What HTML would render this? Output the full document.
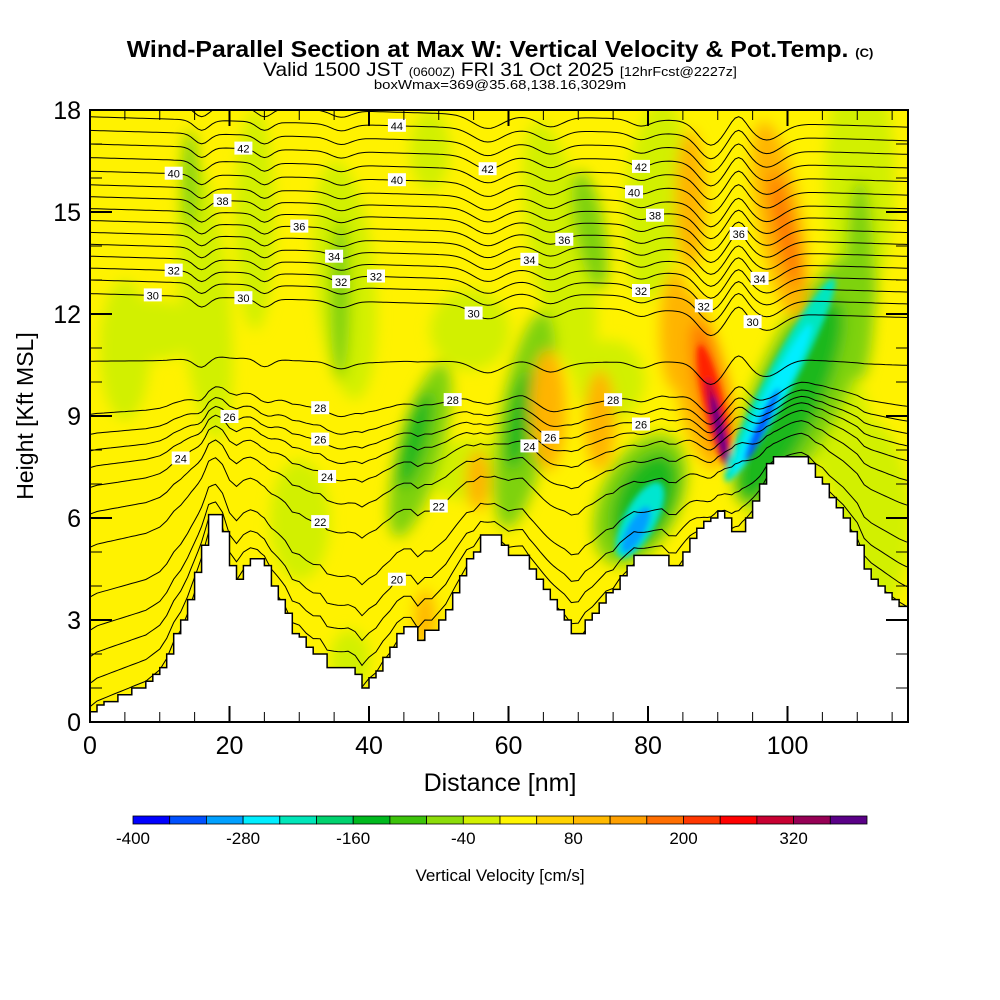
<!DOCTYPE html>
<html><head><meta charset="utf-8">
<style>
html,body{margin:0;padding:0;background:#fff;width:1000px;height:1000px;overflow:hidden}
svg{display:block}
text{font-family:"Liberation Sans",sans-serif}
</style></head>
<body>
<svg id="chart" width="1000" height="1000" viewBox="0 0 1000 1000">
<defs>
<filter id="blur" x="-20%" y="-20%" width="140%" height="140%"><feGaussianBlur stdDeviation="7"/></filter>
<filter id="blur2" x="-20%" y="-20%" width="140%" height="140%"><feGaussianBlur stdDeviation="3"/></filter>
<clipPath id="plotclip"><rect x="90" y="110" width="818" height="612"/></clipPath>
</defs>
<g>
<text x="500" y="57" text-anchor="middle" font-size="23" font-weight="bold" transform="translate(500,0) scale(1.08,1) translate(-500,0)">Wind-Parallel Section at Max W: Vertical Velocity &amp; Pot.Temp. <tspan font-size="12">(C)</tspan></text>
<text x="500" y="76" text-anchor="middle" font-size="19" transform="translate(500,0) scale(1.1,1) translate(-500,0)">Valid 1500 JST <tspan font-size="12">(0600Z)</tspan> FRI 31 Oct 2025 <tspan font-size="13">[12hrFcst@2227z]</tspan></text>
<text x="500" y="89" text-anchor="middle" font-size="13" transform="translate(500,0) scale(1.15,1) translate(-500,0)">boxWmax=369@35.68,138.16,3029m</text>
</g>
<g clip-path="url(#plotclip)">
<rect x="90" y="110" width="818" height="612" fill="#fff200"/>
<g id="field" filter="url(#blur)"></g>
<g id="field2" filter="url(#blur2)"></g>
<g id="contours"></g>
<polygon id="terrain" fill="#fff" stroke="#000" stroke-width="1.5"/>
<g id="labels"></g>
</g>
<rect x="90" y="110" width="818" height="612" fill="none" stroke="#000" stroke-width="2"/>
<g id="ticks"></g>
<text x="500" y="791" text-anchor="middle" font-size="25">Distance [nm]</text>
<text x="0" y="0" text-anchor="middle" font-size="23" transform="translate(33,416) rotate(-90)">Height [Kft MSL]</text>
<g id="colorbar"></g>
<text x="500" y="881" text-anchor="middle" font-size="17">Vertical Velocity [cm/s]</text>
</svg>
<script>
// ---- data ----
const terrainX = [0,1,2,4,6,8,9,10,11,12,13,14,15,16,17,18,19,20,21,22,23,24,25,26,27,28,29,30,31,32,33,34,35,36,37,38,39,40,41,42,43,44,45,46,47,48,49,50,51,52,53,54,55,56,57,58,59,60,61,62,63,64,65,66,67,68,69,70,71,72,73,74,75,76,77,78,79,80,81,82,83,84,85,86,87,88,89,90,91,92,93,94,95,96,97,98,99,100,101,102,103,104,105,106,107,108,109,110,111,112,113,114,115,116,117.3];
const terrainH = [0.3,0.5,0.6,0.8,1.0,1.2,1.4,1.6,2.0,2.6,3.0,3.6,4.4,5.2,6.1,6.1,5.6,4.6,4.2,4.6,4.8,4.8,4.6,4.0,3.6,3.2,2.6,2.5,2.2,2.0,2.0,1.6,1.6,1.6,1.6,1.4,1.0,1.3,1.5,1.9,2.2,2.6,2.8,2.8,2.4,2.7,2.7,3.0,3.3,3.8,4.3,4.8,5.0,5.5,5.5,5.5,5.2,4.9,4.9,4.9,4.5,4.2,3.9,3.6,3.3,3.0,2.6,2.6,3.0,3.2,3.5,3.8,3.9,4.3,4.6,4.9,4.9,4.9,4.9,4.9,4.6,4.6,5.0,5.4,5.7,5.9,6.0,6.2,6.0,5.6,5.6,6.0,6.5,7.0,7.6,7.8,7.8,7.8,7.8,7.8,7.6,7.2,7.0,6.6,6.3,6.0,5.6,5.2,4.5,4.2,4.0,3.8,3.6,3.4,3.2];
const thetaLevels = [17,18,19,20,21,22,23,24,25,26,27,28,29,30,31,32,33,34,35,36,37,38,39,40,41,42,43,44,45];
const thetaBaseH  = [0.2,0.9,1.7,2.5,3.5,5.0,6.0,6.8,7.4,7.9,8.4,9.0,10.6,12.6,13.0,13.35,13.7,14.05,14.4,14.75,15.1,15.45,15.8,16.2,16.6,17.0,17.4,17.8,18.2];
const dipX = [16,25,36,57,66,79,89,93,97];
const dipA = [0.3,0.25,0.2,0.4,0.3,0.2,0.7,-0.3,0.5];
const dipW = [1.5,1.5,2,3,2.5,2,2.5,1.5,3];
const labelX = [22,12,12,13,33,20,34,33,44,33,50,52,9,19,30,22,35,36,41,44,55,63,57,44,66,79,63,68,75,78,79,81,79,88,93,95,96];
const labelL = [42,40,32,24,28,26,24,22,20,26,22,28,30,38,36,30,34,32,32,40,30,24,42,44,26,26,34,36,28,40,42,38,32,32,36,30,34];
const cbLevels = [-400,-360,-320,-280,-240,-200,-160,-120,-80,-40,0,40,80,120,160,200,240,280,320,360,400];
const cbColors = ["#0000ff","#0050ff","#00a0ff","#00eeff","#00e6b9","#00d26e","#00b91e","#3cc30a","#8cdc0a","#d2f000","#fff500","#ffd200","#ffb900","#ffa000","#ff6e00","#ff3700","#ff0000","#c80032","#960055","#5a0087"];
const cbTicks = [-400,-280,-160,-40,80,200,320];
const xTicks = [0,20,40,60,80,100];
const yTicks = [0,3,6,9,12,15,18];

// ---- axes ----
const X = nm => 90 + nm*6.975;
const Y = k => 722 - k*34;
const NS = "http://www.w3.org/2000/svg";
function mk(tag, attrs, parent){const e=document.createElementNS(NS,tag);for(const k in attrs)e.setAttribute(k,attrs[k]);parent.appendChild(e);return e;}
function terr(nm){
  for(let i=0;i<terrainX.length-1;i++){ if(nm<=terrainX[i+1]){const t=(nm-terrainX[i])/(terrainX[i+1]-terrainX[i]);return terrainH[i]+t*(terrainH[i+1]-terrainH[i]);} }
  return terrainH[terrainH.length-1];
}
function thetaH(li, nm){
  const b = thetaBaseH[li];
  let h = b;
  const w = Math.max(0, 1 - b/11);
  h += terr(nm)*w*0.85;
  const up = Math.min(1, b/9);
  h -= up*0.006*nm*(b>11?1:0.3);
  for(let j=0;j<dipX.length;j++){
    const d=(nm-dipX[j])/dipW[j];
    h -= dipA[j]*Math.exp(-d*d)*(0.3+0.7*Math.min(1,b/8));
  }
  return h;
}

// terrain polygon (stair steps)
(function(){
  const pts=[];
  pts.push([X(0),Y(0)-0]);
  for(let i=0;i<terrainX.length;i++){
    const x0=X(terrainX[i]);
    const x1=i<terrainX.length-1?X(terrainX[i+1]):X(118);
    pts.push([x0,Y(terrainH[i])]); pts.push([x1,Y(terrainH[i])]);
  }
  pts.push([X(118),Y(-0.2)]); pts.push([X(0),Y(-0.2)]);
  document.getElementById('terrain').setAttribute('points',pts.map(p=>p[0].toFixed(1)+','+p[1].toFixed(1)).join(' '));
})();

// ---- velocity field (approximate shapes) ----
const fld=document.getElementById('field'), fld2=document.getElementById('field2');
function blob(g,name,cx,cy,rx,ry,rot,col){
  const e=mk('ellipse',{cx:cx,cy:cy,rx:rx,ry:ry,fill:col,transform:`rotate(${rot} ${cx} ${cy})`},g);
  
  
}
[[150,330,50,30,0],[125,350,25,70,0],[205,300,25,140,-5],[255,220,20,110,0],[345,280,30,120,-5],[470,330,40,40,0],[560,250,30,130,-10],[655,200,30,100,5],[860,180,35,120,0],[870,520,40,100,0],[860,660,20,40,0],[470,470,50,30,0],[350,660,20,30,0],[300,520,30,60,0],[610,380,35,40,0],[430,150,20,40,0],[780,540,35,60,0],[840,430,30,60,0]].forEach((b,i)=>blob(fld,'updraft-weak-'+i,b[0],b[1],b[2],b[3],b[4],'#d2f000'));
[[420,450,22,90,15],[525,420,25,110,10],[640,500,40,70,25],[805,380,45,140,25],[590,230,15,60,-10],[860,280,15,100,0],[340,300,10,80,0],[190,180,8,50,0]].forEach((b,i)=>blob(fld,'downdraft-green-'+i,b[0],b[1],b[2],b[3],b[4],'#7ed20a'));
[[415,440,12,50,15],[520,420,12,50,10],[645,500,28,50,25],[790,400,30,110,25]].forEach((b,i)=>blob(fld,'downdraft-strong-'+i,b[0],b[1],b[2],b[3],b[4],'#1cb81e'));
[[548,410,18,60,0],[700,380,25,90,-10],[780,220,22,100,-10],[425,620,10,30,0],[478,480,12,30,0],[600,420,15,50,0],[675,330,15,60,0],[760,560,15,40,0],[690,200,15,70,0]].forEach((b,i)=>blob(fld,'updraft-orange-'+i,b[0],b[1],b[2],b[3],b[4],'#ffb400'));
[[712,390,16,70,-12],[785,230,10,60,-12]].forEach((b,i)=>blob(fld,'updraft-strong-'+i,b[0],b[1],b[2],b[3],b[4],'#ff7800'));
[[714,405,10,62,-13,'#ff2000'],[718,425,6,48,-13,'#c00040'],[720,430,4,35,-13,'#5a0087'],
 [640,520,16,42,28,'#00e6d0'],[636,530,9,26,28,'#00a0ff'],
 [780,380,14,115,28,'#00e6c0'],[772,400,9,85,27,'#00eeff'],[762,425,5,40,25,'#0050ff']].forEach((b,i)=>blob(fld2,'core-'+i,b[0],b[1],b[2],b[3],b[4],b[5]));

// ---- contours ----
const cg=document.getElementById('contours');
thetaLevels.forEach((L,li)=>{
  let d='';
  for(let nm=0;nm<=117.5;nm+=0.5){ d+=(nm===0?'M':'L')+X(nm).toFixed(1)+','+Y(thetaH(li,nm)).toFixed(1); }
  const p=mk('path',{d:d,fill:'none',stroke:'#000','stroke-width':1},cg);
  
  
});
// labels
const lg=document.getElementById('labels');
labelX.forEach((nm,i)=>{
  const li=thetaLevels.indexOf(labelL[i]); if(li<0)return;
  const h=thetaH(li,nm); if(h<terr(nm)+0.3||h>17.9)return;
  const x=X(nm), y=Y(h);
  const g=mk('g',{transform:`translate(${x.toFixed(1)},${y.toFixed(1)})`},lg);
  
  
  mk('rect',{x:-9,y:-7,width:18,height:13,fill:'#fff'},g);
  const t=mk('text',{x:0,y:4,'text-anchor':'middle','font-size':11},g); t.textContent=labelL[i];
});

// ---- ticks ----
const tg=document.getElementById('ticks');
for(let nm=0;nm<=115;nm+=5){
  const major=nm%20===0, len=major?16:10;
  mk('line',{x1:X(nm),y1:722,x2:X(nm),y2:722-len,stroke:'#000','stroke-width':major?2:1},tg);
  mk('line',{x1:X(nm),y1:110,x2:X(nm),y2:110+len,stroke:'#000','stroke-width':major?2:1},tg);
}
for(let k=0;k<=18;k++){
  const major=k%3===0, len=major?22:12;
  mk('line',{x1:90,y1:Y(k),x2:90+len,y2:Y(k),stroke:'#000','stroke-width':major?2:1},tg);
  mk('line',{x1:908,y1:Y(k),x2:908-len,y2:Y(k),stroke:'#000','stroke-width':major?2:1},tg);
}
xTicks.forEach(v=>{const t=mk('text',{x:X(v),y:754,'text-anchor':'middle','font-size':25},tg);t.textContent=v;
  });
yTicks.forEach(v=>{const t=mk('text',{x:81,y:Y(v)+9,'text-anchor':'end','font-size':25},tg);t.textContent=v;
  });

// ---- colorbar ----
const cb=document.getElementById('colorbar');
const cbX=v=>133+(v+400)/800*734;
cbColors.forEach((c,i)=>{
  const r=mk('rect',{x:cbX(cbLevels[i]),y:816,width:cbX(cbLevels[i+1])-cbX(cbLevels[i]),height:8,fill:c,stroke:'#000','stroke-width':0.8},cb);
  
  
});
cbTicks.forEach(v=>{const t=mk('text',{x:cbX(v),y:844,'text-anchor':'middle','font-size':17},cb);t.textContent=v;
  });
</script>
</body></html>
